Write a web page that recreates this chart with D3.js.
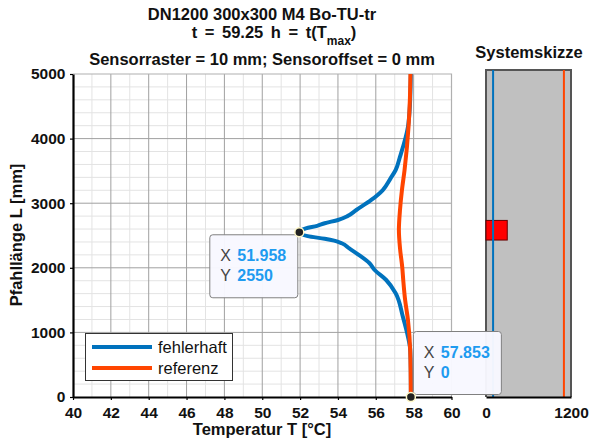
<!DOCTYPE html>
<html>
<head>
<meta charset="utf-8">
<script src="https://cdn.jsdelivr.net/npm/d3@7/dist/d3.min.js"></script>
<style>
  html, body { margin: 0; padding: 0; background: #fff; }
  svg { display: block; font-family: "Liberation Sans", Arial, sans-serif; }
</style>
</head>
<body>
<svg id="chart" width="589" height="441"></svg>
<script>
// Temperature profile along the pile (length L in mm, temperature T in °C)
const fehlerhaftL = [0, 400, 727, 933, 1243, 1605, 1811, 1966, 2070, 2200, 2300, 2380, 2420, 2450, 2490, 2550,
                     2610, 2650, 2690, 2740, 2800, 2895, 3050, 3204, 3385, 3514, 3720, 4184, 4500, 5000];
const fehlerhaftT = [57.853, 57.85, 57.82, 57.7, 57.43, 57.05, 56.55, 55.94, 55.67, 55.1, 54.6, 54.2, 53.8, 53.3, 52.4, 51.958,
                     52.3, 52.9, 53.3, 54.0, 54.5, 54.97, 55.76, 56.37, 56.78, 57.05, 57.28, 57.7, 57.8, 57.85];
const referenzL = [0, 700, 1190, 1500, 1811, 2000, 2300, 2585, 2900, 3200, 3514, 4184, 4600, 5000];
const referenzT = [57.853, 57.82, 57.7, 57.55, 57.45, 57.4, 57.28, 57.22, 57.28, 57.38, 57.52, 57.73, 57.8, 57.83];

const tempTicks = [40, 42, 44, 46, 48, 50, 52, 54, 56, 58, 60];
const lengthTicks = [0, 1000, 2000, 3000, 4000, 5000];
const sketchTicks = [0, 1200];

// Sensor positions in the cross-section sketch (mm) and defect zone
const sensorX = [100, 1100];
const defectX = [0, 300];
const defectL = [2400, 2700];

// Highlighted data tips
const tips = [
  { T: 51.958, L: 2550, label: ["51.958", "2550"] },
  { T: 57.853, L: 0, label: ["57.853", "0"] }
];

const seriesNames = ["fehlerhaft", "referenz"];
const colors = { fehlerhaft: "#0072bd", referenz: "#ff4500" };
const FONT = "'Liberation Sans', Arial, sans-serif";

const svg = d3.select("#chart");

// ---------- main plot ----------
const x = d3.scaleLinear().domain([40, 60]).range([73, 451.5]);
const y = d3.scaleLinear().domain([0, 5000]).range([397, 74]);

const grid = svg.append("g");
// minor grid
grid.selectAll("line.mx").data(d3.range(41, 60, 2)).join("line")
  .attr("x1", d => x(d)).attr("x2", d => x(d)).attr("y1", y(0)).attr("y2", y(5000))
  .attr("stroke", "#e3e3e3").attr("stroke-width", 1);
grid.selectAll("line.my").data(d3.range(200, 5000, 200).filter(v => v % 1000 !== 0)).join("line")
  .attr("x1", x(40)).attr("x2", x(60)).attr("y1", d => y(d)).attr("y2", d => y(d))
  .attr("stroke", "#e3e3e3").attr("stroke-width", 1);
// major grid
grid.selectAll("line.Mx").data(tempTicks.slice(1, -1)).join("line")
  .attr("x1", d => x(d)).attr("x2", d => x(d)).attr("y1", y(0)).attr("y2", y(5000))
  .attr("stroke", "#a0a0a0").attr("stroke-width", 1);
grid.selectAll("line.My").data(lengthTicks.slice(1, -1)).join("line")
  .attr("x1", x(40)).attr("x2", x(60)).attr("y1", d => y(d)).attr("y2", d => y(d))
  .attr("stroke", "#a0a0a0").attr("stroke-width", 1);
// top / right border
svg.append("path")
  .attr("d", `M${x(40)},${y(5000)}H${x(60)}V${y(0)}`)
  .attr("fill", "none").attr("stroke", "#b0b0b0").attr("stroke-width", 1.2);

// axes
const xAxis = d3.axisBottom(x).tickValues(tempTicks).tickFormat(d3.format("d")).tickSize(3).tickSizeOuter(0);
const yAxis = d3.axisLeft(y).tickValues(lengthTicks).tickFormat(d3.format("d")).tickSize(3).tickSizeOuter(0);
const gx = svg.append("g").attr("transform", `translate(0,${y(0)})`).call(xAxis);
const gy = svg.append("g").attr("transform", `translate(${x(40)},0)`).call(yAxis);
[gx, gy].forEach(g => {
  g.select(".domain").attr("stroke", "#000").attr("stroke-width", 2.2);
  g.selectAll(".tick line").attr("stroke", "#000").attr("stroke-width", 1.2);
  g.selectAll(".tick text").attr("fill", "#111").attr("font-size", "15.5px").attr("font-weight", "bold")
    .attr("font-family", FONT);
});
gx.selectAll(".tick text").attr("dy", "0.95em");
gy.selectAll(".tick text").attr("dx", "-0.1em");

// curves
const line = d3.line().x(d => x(d[0])).y(d => y(d[1])).curve(d3.curveMonotoneY);
const fehlerhaft = fehlerhaftL.map((l, i) => [fehlerhaftT[i], l]);
const referenz = referenzL.map((l, i) => [referenzT[i], l]);
svg.append("path").datum(fehlerhaft).attr("d", line)
  .attr("fill", "none").attr("stroke", colors.fehlerhaft).attr("stroke-width", 4).attr("stroke-linejoin", "round");
svg.append("path").datum(referenz).attr("d", line)
  .attr("fill", "none").attr("stroke", colors.referenz).attr("stroke-width", 4).attr("stroke-linejoin", "round");

// legend
const leg = svg.append("g");
leg.append("rect").attr("x", 85.5).attr("y", 333.5).attr("width", 147).attr("height", 47)
  .attr("fill", "#fff").attr("stroke", "#333").attr("stroke-width", 1);
seriesNames.forEach((name, i) => {
  const ly = 347 + i * 21;
  leg.append("line").attr("x1", 92).attr("x2", 152).attr("y1", ly).attr("y2", ly)
    .attr("stroke", colors[name]).attr("stroke-width", 4);
  leg.append("text").attr("x", 158).attr("y", ly + 5.5).text(name)
    .attr("font-size", "16.5px").attr("fill", "#111");
});

// titles
const title = svg.append("g").attr("font-weight", "bold").attr("fill", "#111").attr("text-anchor", "middle")
  .attr("font-size", "16.5px");
title.append("text").attr("x", 262).attr("y", 20).text("DN1200 300x300 M4 Bo-TU-tr");
const t2 = title.append("text").attr("x", 274).attr("y", 38).attr("word-spacing", "3px");
t2.append("tspan").text("t = 59.25 h = t(T");
t2.append("tspan").attr("font-size", "12px").attr("dy", 7).text("max");
t2.append("tspan").attr("dy", -7).text(")");
title.append("text").attr("x", 262).attr("y", 65).text("Sensorraster = 10 mm; Sensoroffset = 0 mm");

svg.append("text").attr("x", 262).attr("y", 435).attr("text-anchor", "middle")
  .attr("font-size", "16.5px").attr("font-weight", "bold").attr("fill", "#111").text("Temperatur T [°C]");
svg.append("text").attr("transform", "translate(22,235) rotate(-90)").attr("text-anchor", "middle")
  .attr("font-size", "16.5px").attr("font-weight", "bold").attr("fill", "#111").text("Pfahllänge L [mm]");

// ---------- system sketch ----------
const sx = d3.scaleLinear().domain([0, 1200]).range([486, 571]);
const sy = d3.scaleLinear().domain([0, 5000]).range([397, 70]);

svg.append("rect").attr("x", sx(0)).attr("y", sy(5000)).attr("width", sx(1200) - sx(0)).attr("height", sy(0) - sy(5000))
  .attr("fill", "#c0c0c0");
svg.append("path").attr("d", `M${sx(0)},${sy(0)}V${sy(5000)}H${sx(1200)}V${sy(0)}`)
  .attr("fill", "none").attr("stroke", "#555").attr("stroke-width", 2);

svg.append("rect").attr("x", sx(defectX[0])).attr("y", sy(defectL[1]))
  .attr("width", sx(defectX[1]) - sx(defectX[0])).attr("height", sy(defectL[0]) - sy(defectL[1]))
  .attr("fill", "#ff0000").attr("stroke", "#600").attr("stroke-width", 1);

sensorX.forEach((sv, i) => {
  svg.append("line").attr("x1", sx(sv)).attr("x2", sx(sv)).attr("y1", sy(0)).attr("y2", sy(5000))
    .attr("stroke", i === 0 ? colors.fehlerhaft : colors.referenz).attr("stroke-width", 2);
});

const gs = svg.append("g").attr("transform", `translate(0,${sy(0)})`)
  .call(d3.axisBottom(sx).tickValues(sketchTicks).tickFormat(d3.format("d")).tickSize(0).tickSizeOuter(0));
gs.select(".domain").attr("stroke", "#000").attr("stroke-width", 2.2);
gs.selectAll(".tick text").attr("fill", "#111").attr("font-size", "15.5px").attr("font-weight", "bold")
  .attr("font-family", FONT).attr("dy", "1.15em");

svg.append("text").attr("x", 529).attr("y", 58).attr("text-anchor", "middle")
  .attr("font-size", "16.5px").attr("font-weight", "bold").attr("fill", "#111").text("Systemskizze");

// ---------- data tips (drawn last, above both panels) ----------
function drawTip(tip, bx, by) {
  const g = svg.append("g");
  g.append("rect").attr("x", bx + 0.5).attr("y", by + 0.5).attr("width", 88).attr("height", 63).attr("rx", 3)
    .attr("fill", "#f8f8ff").attr("fill-opacity", 0.97).attr("stroke", "#808080").attr("stroke-width", 1);
  ["X", "Y"].forEach((k, i) => {
    g.append("text").attr("x", bx + 11).attr("y", by + 27 + i * 20).text(k)
      .attr("font-size", "16px").attr("fill", "#444");
    g.append("text").attr("x", bx + 28).attr("y", by + 27 + i * 20).text(tip.label[i])
      .attr("font-size", "16px").attr("font-weight", "bold").attr("fill", "#1e9bf0");
  });
}
// first tip: box below-left of the point, second: above-right
drawTip(tips[0], x(tips[0].T) - 90, y(tips[0].L) + 2);
drawTip(tips[1], x(tips[1].T) + 2, y(tips[1].L) - 66);
tips.forEach(t => {
  svg.append("circle").attr("cx", x(t.T)).attr("cy", y(t.L)).attr("r", 4.5)
    .attr("fill", "#222").attr("stroke", "#fff8c8").attr("stroke-width", 1.5);
});
</script>
</body>
</html>
